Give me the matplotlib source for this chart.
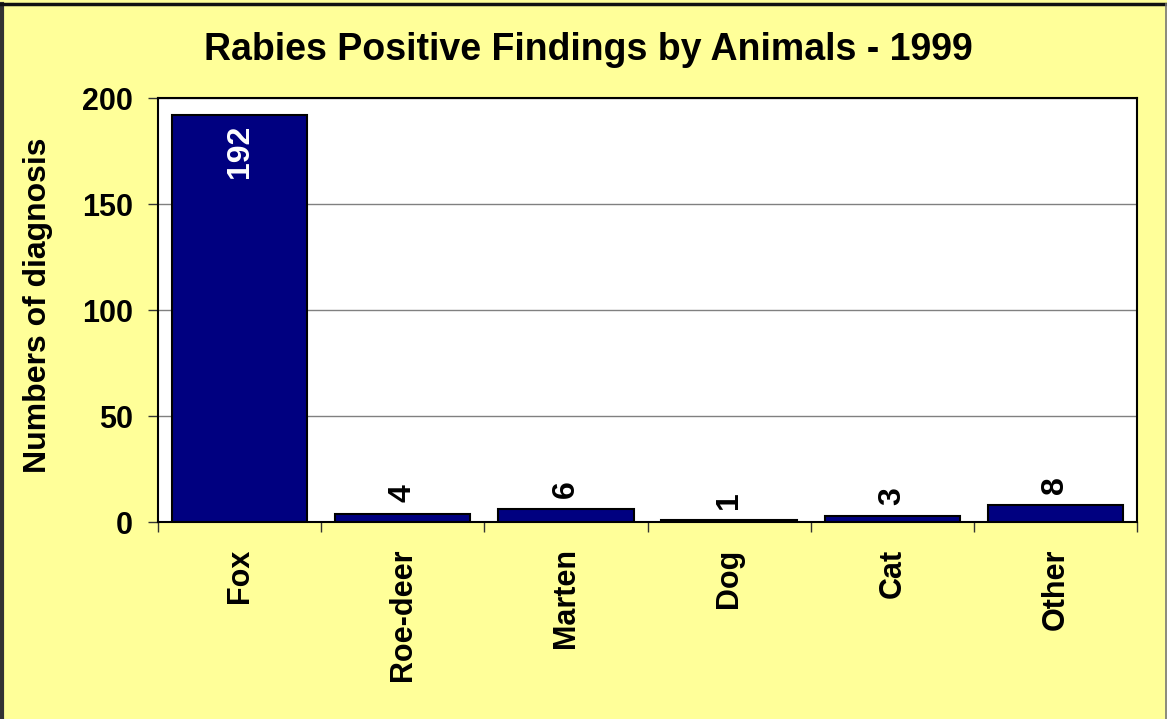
import matplotlib
matplotlib.use("Agg")
import matplotlib.pyplot as plt
from matplotlib.lines import Line2D

categories = ["Fox", "Roe-deer", "Marten", "Dog", "Cat", "Other"]
values = [192, 4, 6, 1, 3, 8]
yticks = [0, 50, 100, 150, 200]
title = "Rabies Positive Findings by Animals - 1999"
ylabel = "Numbers of diagnosis"

plt.rcParams['font.family'] = ['Liberation Sans', 'DejaVu Sans']
W, H = 1167, 719
fig = plt.figure(figsize=(W / 100, H / 100), dpi=100, facecolor="#FFFF99")
ax = fig.add_axes([158 / W, 1 - 522 / H, (1137 - 158) / W, (522 - 98) / H])
ax.set_facecolor("white")

x = list(range(len(categories)))
ax.bar(x, values, width=0.83, color="#000080", edgecolor="black", linewidth=1.5, zorder=3)
ax.set_xlim(-0.5, len(categories) - 0.5)
ax.set_ylim(0, 200)
ax.set_yticks(yticks)
ax.set_yticklabels([str(t) for t in yticks], fontsize=22, fontweight="bold")
ax.set_xticks([i - 0.5 for i in range(len(categories) + 1)], minor=False)
ax.set_xticklabels([])
ax.set_xticks(x, minor=True)
ax.set_xticklabels(categories, minor=True, rotation=90, fontsize=22, fontweight="bold")
ax.tick_params(axis="x", which="minor", length=0, pad=19)
ax.tick_params(axis="x", which="major", length=7.2, width=1, color="#333333", direction="out")
ax.tick_params(axis="y", length=7.2, width=1, color="#333333", direction="out", pad=11)
ax.yaxis.grid(True, color="#808080", linewidth=1, zorder=0)
for s in ax.spines.values():
    s.set_linewidth(1.5)
    s.set_color("black")

for xi, v in zip(x, values):
    if v > 100:
        ax.annotate(str(v), (xi, v), xytext=(0, -7), textcoords="offset points",
                    rotation=90, ha="center", va="top", color="white",
                    fontsize=23, fontweight="bold", zorder=4)
    else:
        ax.annotate(str(v), (xi, v), xytext=(0, 8), textcoords="offset points",
                    rotation=90, ha="center", va="bottom", color="black",
                    fontsize=23, fontweight="bold", zorder=4)

fig.text(38 / W, 1 - 305 / H, ylabel, rotation=90, ha="center", va="center",
         fontsize=23, fontweight="bold")
fig.text(588 / W, 1 - 60 / H, title, ha="center", va="baseline", fontsize=27, fontweight="bold")

fig.add_artist(Line2D([2 / W, 2 / W], [0, 1 - 4 / H], transform=fig.transFigure, color="#333333", linewidth=3))
fig.add_artist(Line2D([0, 1], [1 - 4 / H, 1 - 4 / H], transform=fig.transFigure, color="#111111", linewidth=2.5))
fig.add_artist(Line2D([1 - 1 / W, 1 - 1 / W], [0, 1 - 4 / H], transform=fig.transFigure, color="#777777", linewidth=1.2))

fig.savefig("out.png", dpi=100, facecolor=fig.get_facecolor())
